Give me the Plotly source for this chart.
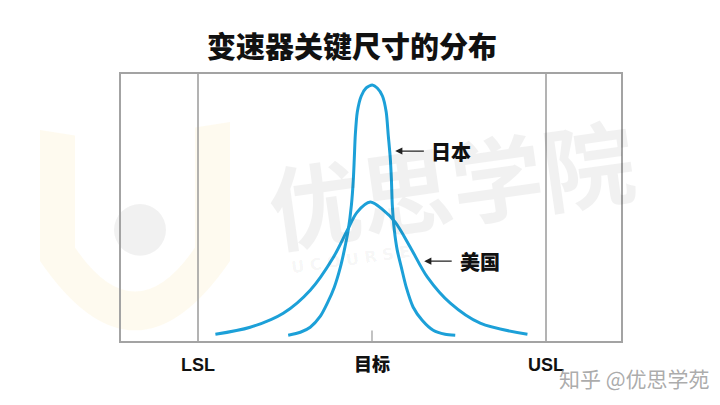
import plotly.graph_objects as go

# ---- data ----
TITLE = "变速器关键尺寸的分布"
TICK_VALS = [-6, 0, 6]
TICK_TEXT = ["LSL", "目标", "USL"]
LSL = -6
USL = 6
TARGET = 0

JP_X = [-2.89, -2.47, -2.13, -1.78, -1.54, -1.30, -1.09, -0.955, -0.82, -0.71, -0.645, -0.61, -0.576,
        -0.507, -0.37, -0.20, 0.01, 0.18, 0.36, 0.49, 0.56, 0.63, 0.67, 0.70, 0.77, 0.87, 1.01, 1.18,
        1.42, 1.73, 2.11, 2.52, 2.87]
JP_Y = [0.023, 0.035, 0.055, 0.099, 0.151, 0.215, 0.295, 0.363, 0.443, 0.543, 0.643, 0.731, 0.823,
        0.915, 0.979, 1.011, 1.023, 1.011, 0.979, 0.915, 0.823, 0.731, 0.643, 0.543, 0.443, 0.363, 0.295, 0.215,
        0.135, 0.083, 0.043, 0.027, 0.023]

US_X = [-5.40, -4.20, -3.06, -2.13, -1.33, -0.85, -0.51, -0.06, 0.39, 0.80, 1.32, 1.91, 2.70, 3.73, 5.36]
US_Y = [0.027, 0.055, 0.111, 0.203, 0.335, 0.443, 0.515, 0.555, 0.523, 0.475, 0.375, 0.255, 0.151, 0.071, 0.027]

LABELS = ["日本", "美国"]
LABEL_HEAD_X = [0.80, 1.80]
LABEL_Y = [0.759, 0.319]
LABEL_TAIL_X = [1.84, 2.80]
LABEL_TEXT_X = [2.73, 3.73]

BLUE = "#1ca0d8"
GRAY = "#a3a3a3"
CJK = "Noto Sans CJK SC"

fig = go.Figure()

fig.add_trace(go.Scatter(x=US_X, y=US_Y, mode="lines", line=dict(color=BLUE, width=3, shape="spline", smoothing=0.9),
                         name="美国", hoverinfo="skip"))
fig.add_trace(go.Scatter(x=JP_X, y=JP_Y, mode="lines", line=dict(color=BLUE, width=3, shape="spline", smoothing=0.7),
                         name="日本", hoverinfo="skip"))

shapes = []
# faint background logo (watermark)
shapes.append(dict(type="path", xref="paper", yref="paper", layer="below",
                   path="M -0.162 0.79 L -0.092 0.77 L -0.092 0.35 Q 0.028 0.02 0.148 0.35 L 0.148 0.80 L 0.218 0.82 L 0.218 0.30 Q 0.028 -0.22 -0.162 0.30 Z",
                   fillcolor="rgba(250,215,130,0.13)", line=dict(width=0)))
shapes.append(dict(type="circle", xref="paper", yref="paper", layer="below",
                   x0=0.038 - 0.052, x1=0.038 + 0.052, y0=0.416 - 0.097, y1=0.416 + 0.097,
                   fillcolor="rgba(0,0,0,0.055)", line=dict(width=0)))
# spec limit lines
for v in (LSL, USL):
    shapes.append(dict(type="line", xref="x", yref="paper", x0=v, x1=v, y0=0, y1=1,
                       line=dict(color="#9a9a9a", width=1.5)))
# target tick
shapes.append(dict(type="line", xref="x", yref="y", x0=TARGET, x1=TARGET, y0=0, y1=0.042,
                   line=dict(color="#9a9a9a", width=1.2)))

annotations = []
# watermark text
annotations.append(dict(xref="paper", yref="paper", x=0.66, y=0.60, text="优思学院", showarrow=False,
                        textangle=-8, font=dict(family=CJK, size=92, color="rgba(0,0,0,0.055)", weight="bold")))
annotations.append(dict(xref="paper", yref="paper", x=0.46, y=0.23, text="U C O U R S E", showarrow=False,
                        textangle=-8, font=dict(family="DejaVu Sans", size=16, color="rgba(0,0,0,0.05)", weight="bold")))

for lab, hx, ly, tx, lx in zip(LABELS, LABEL_HEAD_X, LABEL_Y, LABEL_TAIL_X, LABEL_TEXT_X):
    annotations.append(dict(x=hx, y=ly, ax=tx, ay=ly, xref="x", yref="y", axref="x", ayref="y",
                            text="", showarrow=True, arrowhead=2, arrowsize=1.1, arrowwidth=1.3,
                            arrowcolor="#222222"))
    annotations.append(dict(x=lx, y=ly, xref="x", yref="y", text=lab, showarrow=False,
                            font=dict(family=CJK, size=20, color="#111111", weight=900)))

# title
annotations.append(dict(xref="paper", yref="paper", x=(344 - 113) / 500, y=1, yshift=29, yanchor="middle",
                        text=TITLE, showarrow=False,
                        font=dict(family=CJK, size=29, color="#111111", weight=900)))
# site mark
annotations.append(dict(xref="paper", yref="paper", x=(704 - 113) / 500, y=0, yshift=-37, yanchor="middle",
                        xanchor="right",
                        text="知乎 @优思学苑", showarrow=False,
                        font=dict(family=CJK, size=21, color="rgba(150,150,150,0.8)")))

fig.update_layout(
    width=712, height=397,
    margin=dict(l=113, r=99, t=66, b=64),
    paper_bgcolor="white", plot_bgcolor="rgba(0,0,0,0)",
    showlegend=False,
    shapes=shapes,
    annotations=annotations,
)
fig.update_xaxes(range=[-8.655, 8.586], showgrid=False, zeroline=False,
                 showline=True, mirror=True, linecolor=GRAY, linewidth=2,
                 tickvals=TICK_VALS, ticktext=TICK_TEXT, ticks="", ticklabelstandoff=6,
                 tickfont=dict(family="Liberation Sans, " + CJK, size=18, color="#111111", weight=900))
fig.update_yaxes(range=[0, 1.0668], showgrid=False, zeroline=False,
                 showline=True, mirror=True, linecolor=GRAY, linewidth=2,
                 showticklabels=False, ticks="")

fig.write_html("out.html")
